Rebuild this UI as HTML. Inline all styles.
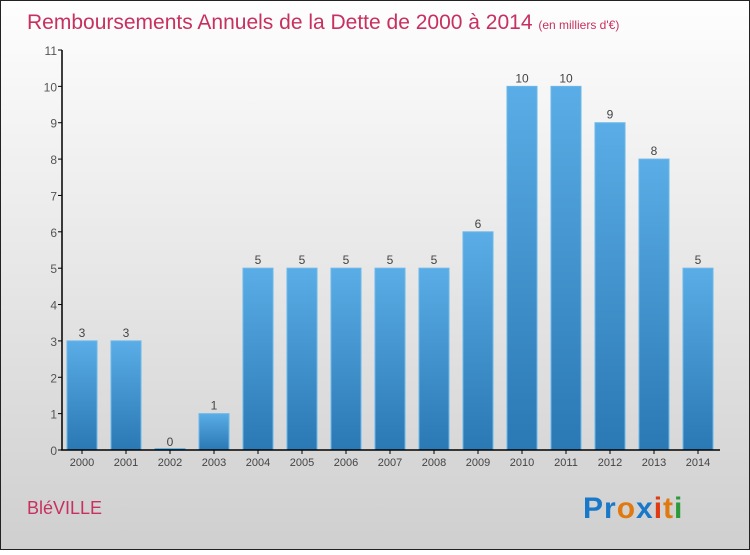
<!DOCTYPE html>
<html><head><meta charset="utf-8"><style>
body{margin:0;width:750px;height:550px;overflow:hidden;font-family:"Liberation Sans",sans-serif}
</style></head><body>
<svg id="chart" width="750" height="550" xmlns="http://www.w3.org/2000/svg">
<defs>
<linearGradient id="bg" x1="0" y1="0" x2="0" y2="1"><stop offset="0" stop-color="#fefefe"/><stop offset="1" stop-color="#cfcfcf"/></linearGradient>
<linearGradient id="bar" x1="0" y1="0" x2="0" y2="1"><stop offset="0" stop-color="#5aade6"/><stop offset="1" stop-color="#2a78b4"/></linearGradient>
</defs>
<rect x="0.5" y="0.5" width="749" height="549" fill="url(#bg)" stroke="#222"/>
<text x="27" y="29" font-size="21" fill="#c8305f">Remboursements Annuels de la Dette de 2000 à 2014 <tspan font-size="12">(en milliers d'€)</tspan></text>
<g id="plot"></g>
<text x="27" y="514" font-size="18" fill="#c8305f">BléVILLE</text>
<g font-size="30" font-weight="bold" font-family="'Liberation Sans',sans-serif">
<text x="583" y="518" letter-spacing="1"><tspan fill="#1a78c8">Pr</tspan><tspan fill="#e07a10">o</tspan><tspan fill="#1a78c8">x</tspan><tspan fill="#e03a10">i</tspan><tspan fill="#e07a10">t</tspan><tspan fill="#2a9a3a">i</tspan></text>
</g>
</svg>
<script>
const years=["2000","2001","2002","2003","2004","2005","2006","2007","2008","2009","2010","2011","2012","2013","2014"];
const values=[3,3,0,1,5,5,5,5,5,6,10,10,9,8,5];
const yTicks=[0,1,2,3,4,5,6,7,8,9,10,11];
const NS="http://www.w3.org/2000/svg";
const g=document.getElementById('plot');
const y0=450,yMax=11,yTop=50;
function ys(v){return y0-(y0-yTop)*v/yMax;}
function xs(i){return 82+i*44;}
function el(t,a){const e=document.createElementNS(NS,t);for(const k in a)e.setAttribute(k,a[k]);g.appendChild(e);return e;}
yTicks.forEach(t=>{
 const l=el('line',{x1:58,x2:62,y1:ys(t),y2:ys(t),stroke:'#000'});
 
 
 const tx=el('text',{x:57,y:ys(t)+5,'text-anchor':'end','font-size':12,fill:'#555'});
 tx.textContent=t;
 
 
});
values.forEach((v,i)=>{
 const h=Math.max(y0-ys(v),1.5);
 const r=el('rect',{x:xs(i)-15,y:y0-h,width:30,height:h,fill:'url(#bar)',stroke:'#6bb8ea','stroke-width':1});
 
 
 const vt=el('text',{x:xs(i),y:ys(v)-4,'text-anchor':'middle','font-size':12,fill:'#444'});
 vt.textContent=v;
 
 
 const tk=el('line',{x1:xs(i),x2:xs(i),y1:y0,y2:y0+4,stroke:'#000'});
 
 
 const xt=el('text',{x:xs(i),y:y0+16,'text-anchor':'middle','font-size':11,fill:'#444'});
 xt.textContent=years[i];
 
 
});
const ya=el('line',{x1:62,x2:62,y1:ys(11),y2:y0,stroke:'#000','stroke-width':1.5});


const xa=el('line',{x1:61,x2:720,y1:y0,y2:y0,stroke:'#000','stroke-width':1.5});


</script>
</body></html>
